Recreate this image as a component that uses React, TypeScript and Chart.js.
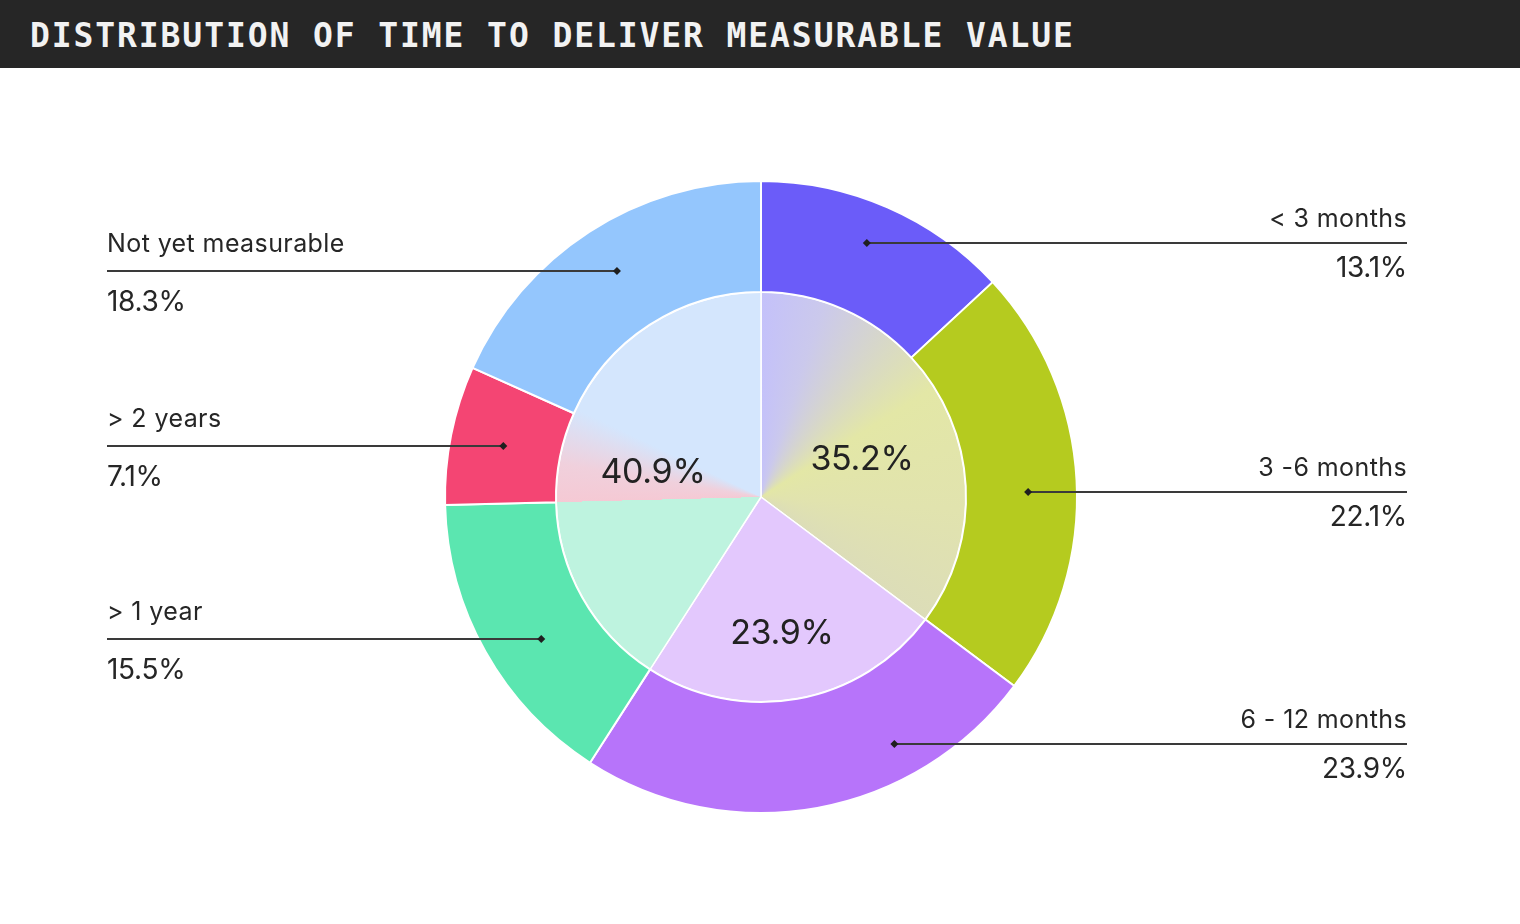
import React, { useEffect, useRef } from "react";
import { Chart, registerables } from "chart.js";

Chart.register(...registerables);

const TITLE = "DISTRIBUTION OF TIME TO DELIVER MEASURABLE VALUE";

// Outer ring: individual answers (clockwise from 12 o'clock)
const categories = ["< 3 months", "3 -6 months", "6 - 12 months", "> 1 year", "> 2 years", "Not yet measurable"];
const shares = [13.1, 22.1, 23.9, 15.5, 7.1, 18.3];
const outerColors = ["#6B5CF9", "#B5CB1F", "#B774FA", "#5BE6B0", "#F44573", "#94C6FD"];

// Inner pie: grouped totals
const groupLabels = ["Under 6 months", "6 - 12 months", "Over 1 year / not yet"];
const groupShares = [35.2, 23.9, 40.9];

// Annotation layout (fractions along each segment's angle / ring thickness)
const markerAngleFrac = [0.48, 0.525, 0.29, 0.437, 0.495, 0.507];
const markerRadiusFrac = [0.63, 0.56, 0.685, 0.51, 0.52, 0.57];
const groupAngleFrac = [0.544, 0.517, 0.48];
const groupRadiusFrac = [0.528, 0.667, 0.542];

const LABEL_FONT = "Inter, 'Noto Sans', sans-serif";

function innerGradient(chart: any) {
  const area = chart.chartArea;
  if (!area) return "#dddddd";
  const cx = (area.left + area.right) / 2;
  const cy = (area.top + area.bottom) / 2;
  const g = chart.ctx.createConicGradient(-Math.PI / 2, cx, cy);
  const a = groupShares[0] / 100;
  const b = (groupShares[0] + groupShares[1]) / 100;
  const c = (shares[0] + shares[1] + shares[2] + shares[3]) / 100;
  g.addColorStop(0, "#C4C1FA");
  g.addColorStop(0.05, "#CBC9EC");
  g.addColorStop(0.1, "#D6D6CC");
  g.addColorStop(0.16, "#E3E7A6");
  g.addColorStop(0.26, "#E1E3AE");
  g.addColorStop(a, "#DCDDB8");
  g.addColorStop(a, "#E3C8FD");
  g.addColorStop(b, "#E3C8FD");
  g.addColorStop(b, "#BEF3DF");
  g.addColorStop(c, "#BEF3DF");
  g.addColorStop(c, "#F5C9D4");
  g.addColorStop(c + 0.03, "#F0D0DC");
  g.addColorStop(c + 0.075, "#D4E6FD");
  g.addColorStop(1, "#D4E6FD");
  return g;
}

const annotationPlugin = {
  id: "annotations",
  afterDatasetsDraw(chart: any) {
    const ctx = chart.ctx as CanvasRenderingContext2D;
    const outer = chart.getDatasetMeta(0);
    const inner = chart.getDatasetMeta(1);
    const leftX = 107;
    const rightX = 1407;

    ctx.save();
    outer.data.forEach((arc: any, i: number) => {
      const p = arc.getProps(["x", "y", "startAngle", "endAngle", "innerRadius", "outerRadius"], true);
      const ang = p.startAngle + (p.endAngle - p.startAngle) * markerAngleFrac[i];
      const r = p.innerRadius + (p.outerRadius - p.innerRadius) * markerRadiusFrac[i];
      const mx = p.x + Math.cos(ang) * r;
      const my = Math.round(p.y + Math.sin(ang) * r);
      const right = Math.cos(ang) > 0;

      ctx.strokeStyle = "#3a3a3a";
      ctx.lineWidth = 2;
      ctx.beginPath();
      ctx.moveTo(mx, my);
      ctx.lineTo(right ? rightX : leftX, my);
      ctx.stroke();

      ctx.fillStyle = "#1f1f1f";
      ctx.beginPath();
      const d = 4;
      ctx.moveTo(mx, my - d);
      ctx.lineTo(mx + d, my);
      ctx.lineTo(mx, my + d);
      ctx.lineTo(mx - d, my);
      ctx.closePath();
      ctx.fill();

      ctx.fillStyle = "#262626";
      ctx.textBaseline = "alphabetic";
      ctx.textAlign = right ? "right" : "left";
      const tx = right ? rightX : leftX;
      (ctx as any).letterSpacing = "0.4px";
      ctx.font = `400 25px ${LABEL_FONT}`;
      ctx.fillText(categories[i], tx, my + (right ? -16.5 : -19.5));
      (ctx as any).letterSpacing = "-0.3px";
      ctx.font = `400 28px ${LABEL_FONT}`;
      ctx.fillText(shares[i].toFixed(1) + "%", tx, my + (right ? 34 : 40));
    });

    inner.data.forEach((arc: any, i: number) => {
      const p = arc.getProps(["x", "y", "startAngle", "endAngle", "outerRadius"], true);
      const ang = p.startAngle + (p.endAngle - p.startAngle) * groupAngleFrac[i];
      const r = p.outerRadius * groupRadiusFrac[i];
      const x = p.x + Math.cos(ang) * r;
      const y = p.y + Math.sin(ang) * r;
      const size = 34;
      ctx.fillStyle = "#222222";
      ctx.textAlign = "center";
      ctx.textBaseline = "alphabetic";
      (ctx as any).letterSpacing = "-0.3px";
      ctx.font = `400 ${size}px ${LABEL_FONT}`;
      ctx.fillText(groupShares[i].toFixed(1) + "%", x, y + size * 0.36);
    });
    ctx.restore();
  },
};

export default function App() {
  const canvasRef = useRef<HTMLCanvasElement | null>(null);

  useEffect(() => {
    const canvas = canvasRef.current;
    if (!canvas) return;
    const chart = new Chart(canvas, {
      type: "doughnut",
      data: {
        labels: categories,
        datasets: [
          {
            label: "Answers",
            data: shares,
            backgroundColor: outerColors,
            borderColor: "#ffffff",
            borderWidth: 2,
            weight: 111,
          } as any,
          {
            label: "Groups",
            data: groupShares,
            backgroundColor: (c: any) => innerGradient(c.chart),
            borderColor: "#ffffff",
            borderWidth: 1.5,
            weight: 205,
          } as any,
        ],
      },
      options: {
        responsive: false,
        animation: false,
        cutout: 0,
        layout: { padding: { top: 112, bottom: 110, left: 2, right: 0 } },
        plugins: {
          legend: { display: false },
          tooltip: { enabled: false },
          title: { display: false },
        },
      },
      plugins: [annotationPlugin],
    });
    return () => chart.destroy();
  }, []);

  return (
    <div
      style={{
        position: "absolute",
        left: 0,
        top: 0,
        width: 1520,
        height: 924,
        background: "#ffffff",
        overflow: "hidden",
      }}
    >
      <div
        style={{
          height: 68,
          overflow: "hidden",
          background: "#262626",
          color: "#F2F2F2",
          fontFamily: "'DejaVu Sans Mono', 'Liberation Mono', monospace",
          fontWeight: 700,
          fontSize: 33,
          letterSpacing: "1.9px",
          lineHeight: "72px",
          paddingLeft: 30,
          whiteSpace: "nowrap",
        }}
      >
        {TITLE}
      </div>
      <canvas ref={canvasRef} width={1520} height={856} style={{ display: "block" }} />
    </div>
  );
}
